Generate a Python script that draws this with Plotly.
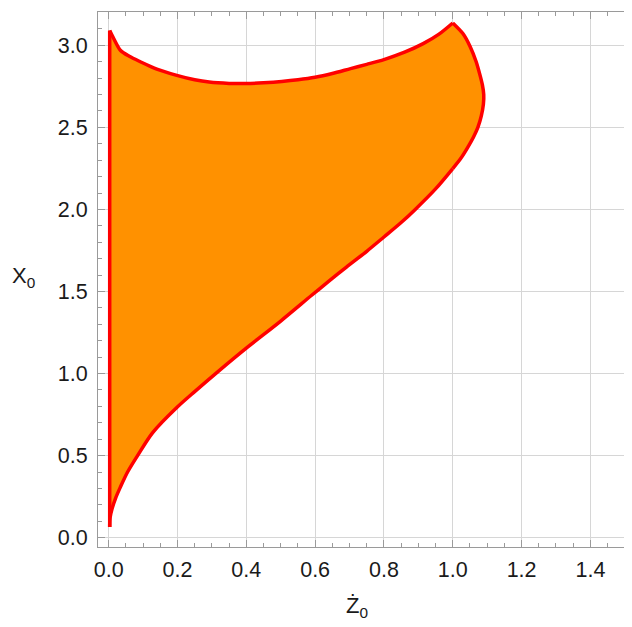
import plotly.graph_objects as go

# Boundary of the region (Z0-dot, X0)
left_x = [0.003, 0.003]
left_y = [0.065, 3.09]

top_x = [0.003, 0.015, 0.034, 0.06, 0.092, 0.14, 0.198, 0.25, 0.292, 0.35, 0.40, 0.45,
         0.503, 0.55, 0.60, 0.65, 0.703, 0.75, 0.80, 0.86, 0.914, 0.96, 1.0]
top_y = [3.09, 3.04, 2.97, 2.933, 2.90, 2.855, 2.817, 2.79, 2.776, 2.768, 2.767, 2.772,
         2.78, 2.79, 2.805, 2.828, 2.858, 2.884, 2.913, 2.958, 3.01, 3.068, 3.136]

right_x = [1.0, 1.03, 1.051, 1.068, 1.079, 1.086, 1.090, 1.089, 1.083, 1.073, 1.06,
           1.044, 1.023, 1.0]
right_y = [3.136, 3.07, 2.99, 2.90, 2.82, 2.76, 2.70, 2.64, 2.57, 2.50, 2.44,
           2.38, 2.31, 2.249]

low_x = [1.0, 0.95, 0.891, 0.85, 0.80, 0.75, 0.691, 0.64, 0.59, 0.50, 0.40, 0.316, 0.25,
         0.198, 0.128, 0.084, 0.055, 0.034, 0.02, 0.010, 0.004, 0.003]
low_y = [2.249, 2.125, 2.0, 1.92, 1.832, 1.745, 1.649, 1.563, 1.477, 1.32, 1.155, 1.009, 0.89,
         0.793, 0.64, 0.50, 0.40, 0.308, 0.24, 0.178, 0.12, 0.065]

xs = left_x + top_x[1:] + right_x[1:] + low_x[1:]
ys = left_y + top_y[1:] + right_y[1:] + low_y[1:]

x_range = [-0.031, 1.518]
y_range = [-0.057, 3.203]

FONT = "Liberation Sans, Arial, sans-serif"
FRAME = "#9a9a9a"
GRID = "#d6d6d6"
RED = "#FF0000"
TXT = "#1a1a1a"

fig = go.Figure()
# filled region
fig.add_trace(go.Scatter(
    x=xs, y=ys, mode="lines", fill="toself",
    fillcolor="#FF9100", line=dict(width=0),
    hoverinfo="skip", showlegend=False,
))
# outline pieces
fig.add_trace(go.Scatter(x=left_x, y=left_y, mode="lines",
                         line=dict(color=RED, width=3.5),
                         hoverinfo="skip", showlegend=False))
for sx, sy in [(top_x, top_y), (right_x, right_y), (low_x, low_y)]:
    fig.add_trace(go.Scatter(x=sx, y=sy, mode="lines",
                             line=dict(color=RED, width=3.5, shape="spline", smoothing=0.8),
                             hoverinfo="skip", showlegend=False))

common = dict(
    showline=True, linecolor=FRAME, linewidth=1.2, mirror="allticks",
    ticks="inside", tickcolor=FRAME, ticklen=7, tickwidth=1,
    showgrid=True, gridcolor=GRID, gridwidth=1, zeroline=False,
    tickfont=dict(family=FONT, size=21.5, color=TXT),
    tickformat=".1f", layer="above traces", automargin=False,
)

fig.update_xaxes(range=x_range, dtick=0.2, tick0=0,
                 minor=dict(ticks="inside", dtick=0.05, tick0=0, ticklen=3.5,
                            tickcolor=FRAME, showgrid=False),
                 ticklabelstandoff=3, **common)
fig.update_yaxes(range=y_range, dtick=0.5, tick0=0,
                 minor=dict(ticks="inside", dtick=0.1, tick0=0, ticklen=3.5,
                            tickcolor=FRAME, showgrid=False),
                 ticklabelstandoff=5, **common)

fig.add_annotation(text="Ż<sub>0</sub>", xref="paper", yref="paper",
                   x=0.486, y=-0.112, xanchor="center", yanchor="middle",
                   showarrow=False, font=dict(family=FONT, size=22, color=TXT))
fig.add_annotation(text="X<sub>0</sub>", xref="paper", yref="paper",
                   x=-0.14, y=0.504, xanchor="center", yanchor="middle",
                   showarrow=False, font=dict(family=FONT, size=22, color=TXT))

fig.update_layout(
    width=624, height=619,
    margin=dict(l=90, r=1, t=4, b=80),
    paper_bgcolor="white", plot_bgcolor="white",
    font=dict(family=FONT),
)

fig.write_html("out.html")
